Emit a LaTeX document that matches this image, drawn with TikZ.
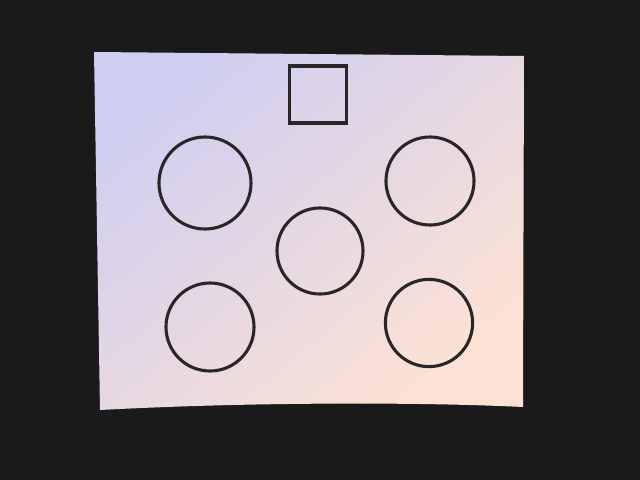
\documentclass[tikz,border=0pt]{standalone}
\usetikzlibrary{positioning}
\definecolor{BoardBlack}{RGB}{26,26,26}
\definecolor{PaperLilac}{RGB}{208,206,240}
\definecolor{PaperWhite}{RGB}{236,230,242}
\definecolor{PaperPeach}{RGB}{252,226,212}
\definecolor{InkGray}{RGB}{40,38,38}
\tikzset{
  ringshape/.style={circle, draw=InkGray, line width=2.2pt, inner sep=0pt},
  boxshape/.style={rectangle, draw=InkGray, line width=2.4pt, inner sep=0pt, minimum size=1.43cm}
}
\begin{document}
\begin{tikzpicture}[x=0.025cm, y=-0.025cm]
  % backdrop and sheet
  \fill[BoardBlack] (0,0) rectangle (640,480);
  \useasboundingbox (0,0) rectangle (640,480);
  \shade[top color=PaperLilac, middle color=PaperWhite, bottom color=PaperPeach, shading angle=40]
    (94,52) -- (524,56) -- (523,407) .. controls (420,402) and (250,402) .. (100,410) -- cycle;

  % marks on the sheet
  \node[boxshape] (box) at (318,94.5) {};
  \node[ringshape, minimum size=2.3cm] (ringTL) at (205,183) {};
  \node[ringshape, minimum size=2.2cm] (ringTR) at (430,181) {};
  \node[ringshape, minimum size=2.15cm] (ringM) at (320,251) {};
  \node[ringshape, minimum size=2.2cm] (ringBL) at (210,327) {};
  \node[ringshape, minimum size=2.18cm] (ringBR) at (429,323) {};
\end{tikzpicture}
\end{document}
